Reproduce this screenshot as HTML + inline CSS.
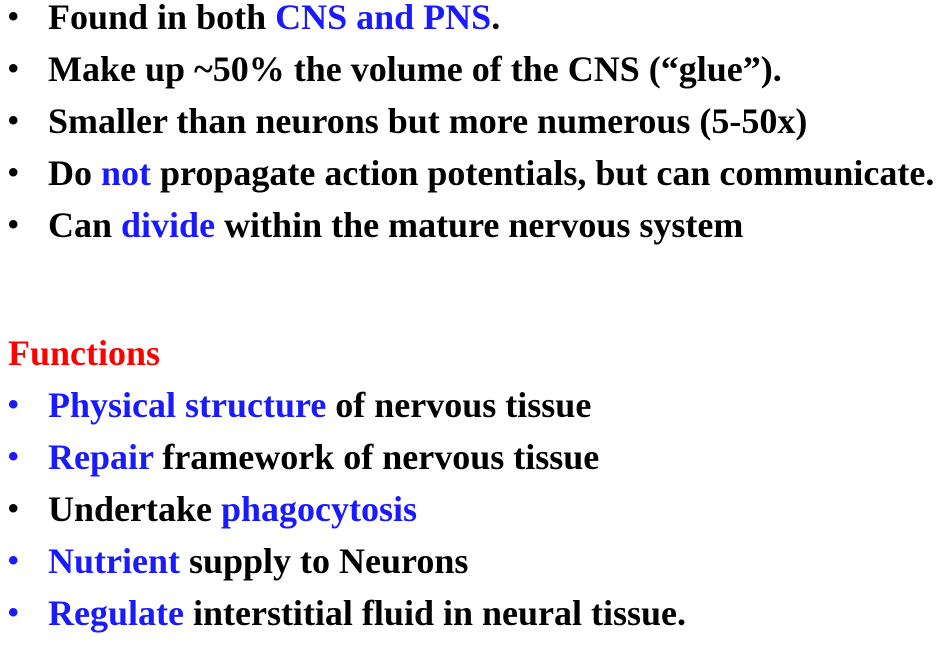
<!DOCTYPE html>
<html><head><meta charset="utf-8"><style>
body{margin:0;width:950px;height:666px;background:#fff;overflow:hidden;position:relative;font-family:"Liberation Serif",serif;font-weight:bold;font-size:36px;color:#000}
.l{position:absolute;left:0;height:52px;line-height:52px;white-space:nowrap}
.b{position:absolute;left:8px;font-family:"Liberation Sans",sans-serif;font-size:30px}
.t{position:absolute;left:48px}
.u{color:#1a1aff}
.r{color:#ff0000}
</style></head><body>
<div class="l" style="top:-9px"><span class="b">•</span><span class="t">Found in both <span class="u">CNS and PNS</span>.</span></div>
<div class="l" style="top:43px"><span class="b">•</span><span class="t">Make up ~50% the volume of the CNS (“glue”).</span></div>
<div class="l" style="top:95px"><span class="b">•</span><span class="t">Smaller than neurons but more numerous (5-50x)</span></div>
<div class="l" style="top:147px"><span class="b">•</span><span class="t">Do <span class="u">not</span> propagate action potentials, but can communicate.</span></div>
<div class="l" style="top:199px"><span class="b">•</span><span class="t">Can <span class="u">divide</span> within the mature nervous system</span></div>
<div class="l r" style="top:327px;left:8px">Functions</div>
<div class="l" style="top:379px"><span class="b u">•</span><span class="t"><span class="u">Physical structure</span> of nervous tissue</span></div>
<div class="l" style="top:431px"><span class="b u">•</span><span class="t"><span class="u">Repair</span> framework of nervous tissue</span></div>
<div class="l" style="top:483px"><span class="b">•</span><span class="t">Undertake <span class="u">phagocytosis</span></span></div>
<div class="l" style="top:535px"><span class="b u">•</span><span class="t"><span class="u">Nutrient</span> supply to Neurons</span></div>
<div class="l" style="top:587px"><span class="b u">•</span><span class="t"><span class="u">Regulate</span> interstitial fluid in neural tissue.</span></div>
</body></html>
